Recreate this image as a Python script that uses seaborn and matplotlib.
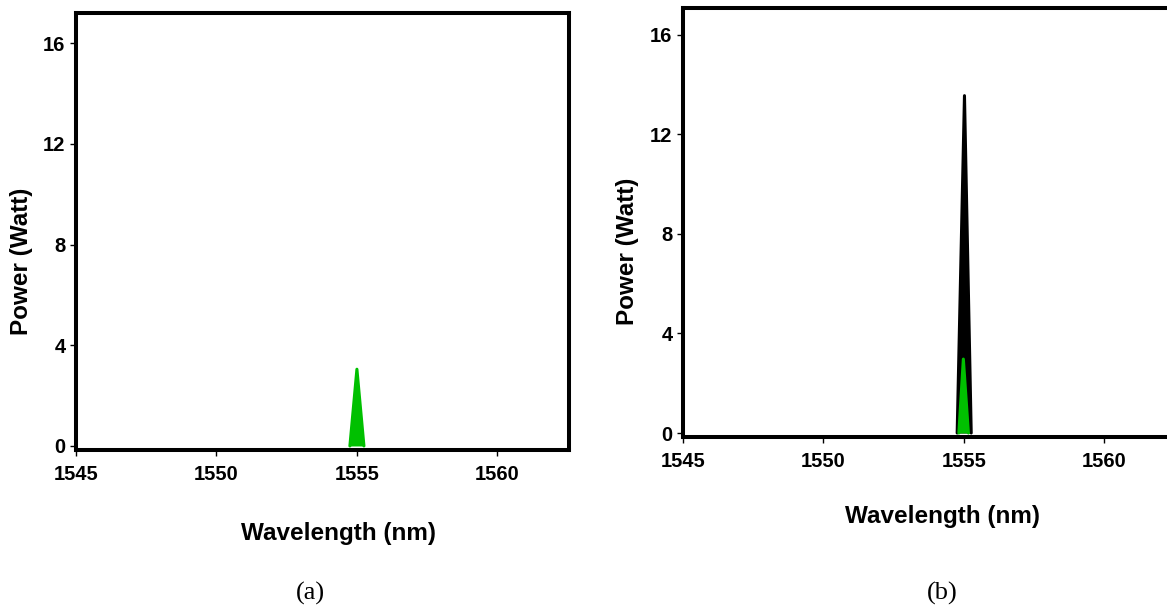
import numpy as np
import pandas as pd
import matplotlib
matplotlib.use("Agg")
import matplotlib.pyplot as plt
import seaborn as sns

# ── data ─────────────────────────────────────────────────────
# (a) input spectrum
wavelength_a = [1554.75, 1555.00, 1555.25]
power_a      = [0.0, 3.05, 0.0]

# (b) amplified output (black) and input (green)
wavelength_b_out = [1554.76, 1555.02, 1555.26]
power_b_out      = [0.0, 13.55, 0.0]
wavelength_b_in  = [1554.82, 1554.98, 1555.16]
power_b_in       = [0.0, 2.97, 0.0]

x_ticks = [1545, 1550, 1555, 1560]
y_ticks = [0, 4, 8, 12, 16]

GREEN = "#00C000"

sns.set_style("white")
plt.rcParams["font.family"] = ["Liberation Sans", "DejaVu Sans"]
plt.rcParams["font.weight"] = "bold"
plt.rcParams["text.color"] = "black"
plt.rcParams["axes.labelcolor"] = "black"
plt.rcParams["xtick.color"] = "black"
plt.rcParams["ytick.color"] = "black"

W, H = 1167, 609
fig = plt.figure(figsize=(W / 100, H / 100), dpi=100)

def px_axes(left, top, right, bottom):
    return fig.add_axes([left / W, 1 - bottom / H, (right - left) / W, (bottom - top) / H])

ax_a = px_axes(76, 13, 569, 450)
ax_b = px_axes(683, 8, 1176, 437)   # right edge falls off the figure, as in the source


def peak(ax, x, y, color):
    df = pd.DataFrame({"wl": x, "p": y})
    ax.fill_between(df["wl"], df["p"], 0, color=color, lw=0)
    sns.lineplot(data=df, x="wl", y="p", ax=ax, color=color, lw=2.2,
                 solid_joinstyle="round", solid_capstyle="round")


peak(ax_a, wavelength_a, power_a, GREEN)
peak(ax_b, wavelength_b_out, power_b_out, "black")
peak(ax_b, wavelength_b_in, power_b_in, GREEN)

for ax, ylo, yhi in [(ax_a, -0.16, 17.2), (ax_b, -0.16, 17.07)]:
    ax.set_xlim(1545, 1562.55)
    ax.set_ylim(ylo, yhi)
    ax.set_xticks(x_ticks)
    ax.set_yticks(y_ticks)
    ax.tick_params(axis="both", which="major", direction="out", length=4.5, width=1,
                   color="black", labelcolor="black", labelsize=14.5,
                   bottom=True, left=True)
    ax.tick_params(axis="x", pad=6)
    ax.tick_params(axis="y", pad=3)
    for lab in ax.get_xticklabels() + ax.get_yticklabels():
        lab.set_fontweight("bold")
    for s in ax.spines.values():
        s.set_visible(True)
        s.set_linewidth(2.9)
        s.set_color("black")
    ax.set_xlabel("Wavelength (nm)", fontsize=17.5, fontweight="bold", va="center",
                  color="black")
    ax.set_ylabel("Power (Watt)", fontsize=17.5, fontweight="bold", va="center",
                  color="black")
    ax.grid(False)

ax_a.xaxis.set_label_coords(0.533, -0.19)
ax_a.yaxis.set_label_coords(-0.11, 0.432)
ax_b.xaxis.set_label_coords(0.527, -0.186)
ax_b.yaxis.set_label_coords(-0.112, 0.434)

fig.text(310 / W, 1 - 593 / H, "(a)", family=["Liberation Serif", "DejaVu Serif"],
         fontsize=19, fontweight="normal", ha="center", va="center", color="black")
fig.text(942 / W, 1 - 593 / H, "(b)", family=["Liberation Serif", "DejaVu Serif"],
         fontsize=19, fontweight="normal", ha="center", va="center", color="black")

fig.savefig("out.png", dpi=100)
